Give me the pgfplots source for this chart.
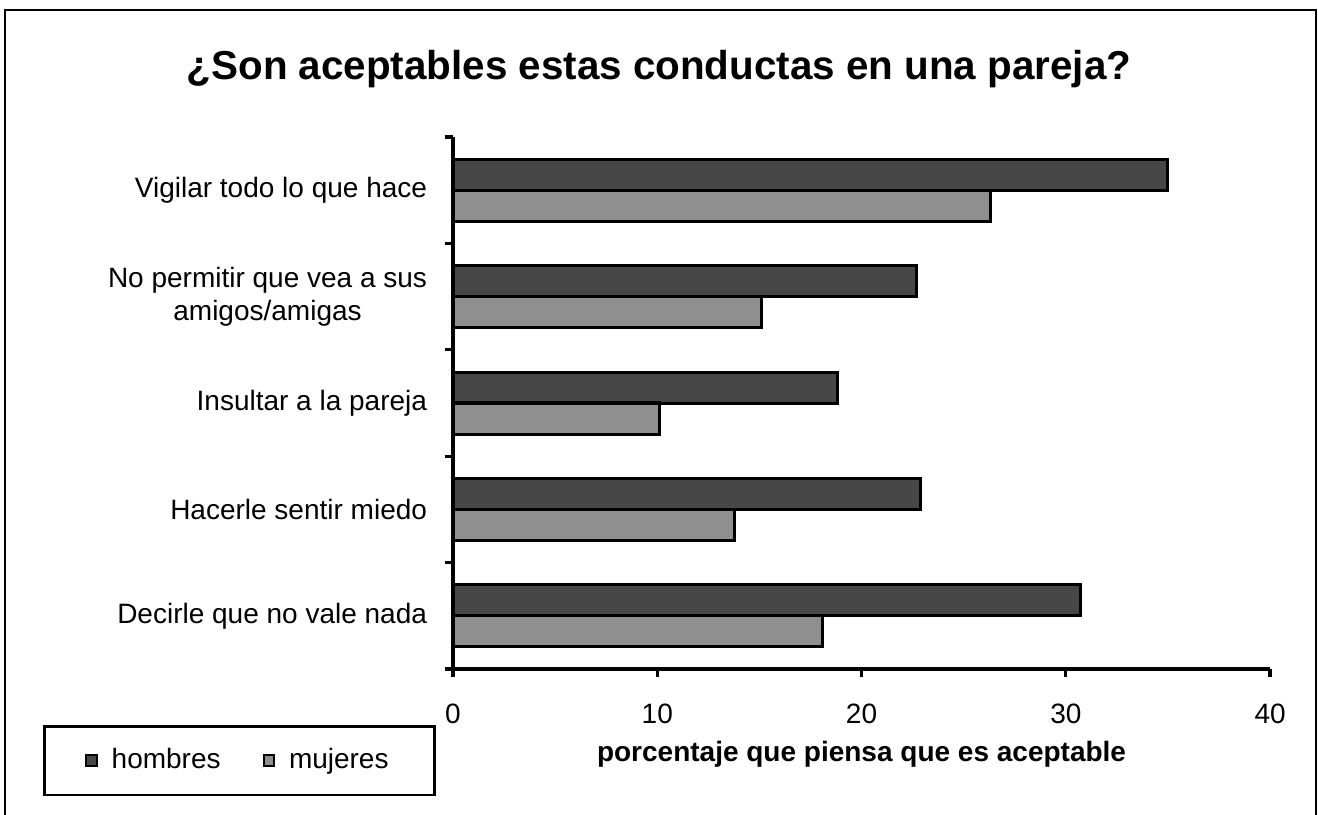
\documentclass[border=0pt]{standalone}
\usepackage{pgfplots}
\pgfplotsset{compat=1.18}
\usepackage{fontspec}
\setmainfont{Liberation Sans}
\definecolor{hom}{RGB}{71,71,71}
\definecolor{muj}{RGB}{143,143,143}
\pgfplotsset{sq legend/.style={legend image code/.code={\draw[##1, line width=0.9pt] (0pt,-2.3pt) rectangle (4.6pt,2.3pt);}}}
\begin{document}
\begin{tikzpicture}
\useasboundingbox (-194.16pt,-62.15pt) rectangle (370.73pt,286.73pt);
\begin{axis}[
  at={(0pt,0pt)}, anchor=south west,
  width=350.2pt, height=228.0pt, scale only axis,
  xmin=0, xmax=40, ymin=-0.5, ymax=4.5,
  axis x line=bottom, axis y line=left,
  axis line style={-, line width=1.4pt, black},
  tick style={line width=1.4pt, black},
  tick align=outside, major tick length=3.6pt,
  xtick={0,10,20,30,40},
  ytick={-0.5,0.5,1.5,2.5,3.5,4.5},
  yticklabels={Decirle que no vale nada, Hacerle sentir miedo, Insultar a la pareja, {No permitir que vea a sus\\amigos/amigas}, Vigilar todo lo que hace, {}},
  /pgf/number format/assume math mode=true,
  tick label style={font=\fontsize{12}{14}\selectfont},
  yticklabel style={align=center, yshift=22.8pt, xshift=-4.0pt},
  xticklabel style={anchor=base, yshift=-19.6pt},
  xlabel={porcentaje que piensa que es aceptable},
  xlabel style={at={(axis description cs:0.5,-0.1748)}, anchor=base, font=\fontsize{12}{14}\selectfont\bfseries},
  legend columns=2,
  legend style={at={(axis description cs:-0.5018,-0.1053)}, anchor=north west, draw=black, line width=1.1pt,
    font=\fontsize{12}{14}\selectfont, inner xsep=17.6pt, inner ysep=7.6pt,
    /tikz/every odd column/.append style={column sep=3.8pt},
    /tikz/every even column/.append style={column sep=16pt}},
  clip=false,
]
\addplot[xbar, bar width=13.29pt, bar shift=6.64pt, fill=hom, draw=black, line width=1.3pt, sq legend]
  coordinates {(30.7,0) (22.9,1) (18.8,2) (22.7,3) (35.0,4)};
\addplot[xbar, bar width=13.29pt, bar shift=-6.64pt, fill=muj, draw=black, line width=1.3pt, sq legend]
  coordinates {(18.1,0) (13.8,1) (10.1,2) (15.1,3) (26.3,4)};
\legend{hombres, mujeres}
\end{axis}
\begin{scope}[x=0.4286pt, y=-0.4286pt, shift={(-453,-669)}]
  \draw[line width=1.1pt] (5,830) -- (5,10) -- (1316,10) -- (1316,830);
  \node[font=\fontsize{17.3}{20}\selectfont\bfseries, anchor=base, inner sep=0pt] at (659,80) {¿Son aceptables estas conductas en una pareja?};
\end{scope}
\end{tikzpicture}
\end{document}
